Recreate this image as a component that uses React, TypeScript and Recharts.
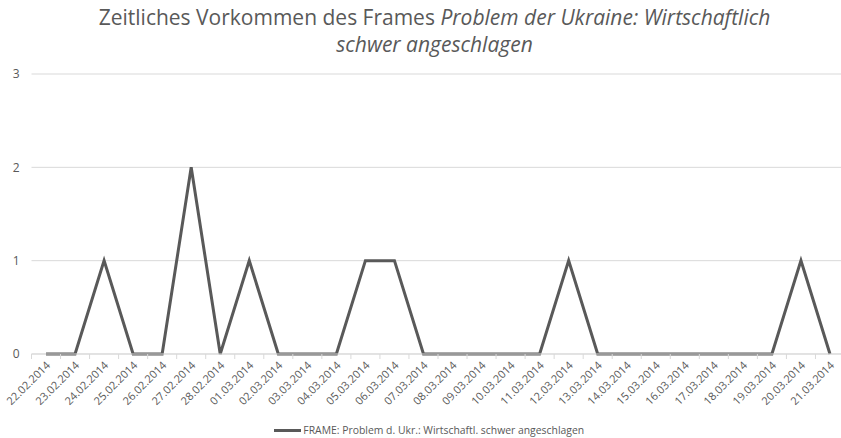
import React from 'react';
import { LineChart, Line, XAxis, YAxis, CartesianGrid, Legend } from 'recharts';

const DATES = [
  '22.02.2014', '23.02.2014', '24.02.2014', '25.02.2014', '26.02.2014', '27.02.2014', '28.02.2014',
  '01.03.2014', '02.03.2014', '03.03.2014', '04.03.2014', '05.03.2014', '06.03.2014', '07.03.2014',
  '08.03.2014', '09.03.2014', '10.03.2014', '11.03.2014', '12.03.2014', '13.03.2014', '14.03.2014',
  '15.03.2014', '16.03.2014', '17.03.2014', '18.03.2014', '19.03.2014', '20.03.2014', '21.03.2014',
];

const COUNTS = [0, 0, 1, 0, 0, 2, 0, 1, 0, 0, 0, 1, 1, 0, 0, 0, 0, 0, 1, 0, 0, 0, 0, 0, 0, 0, 1, 0];

const Y_TICKS = [0, 1, 2, 3];

const SERIES_NAME = 'FRAME: Problem d. Ukr.: Wirtschaftl. schwer angeschlagen';

const data = DATES.map((date, i) => ({ date, frame: COUNTS[i] }));

const WIDTH = 841;
const HEIGHT = 438;
const MARGIN = { top: 74, right: -3.5, bottom: 0, left: 0 };
const Y_WIDTH = 31.5;
const STEP = (WIDTH - MARGIN.left - MARGIN.right - Y_WIDTH) / DATES.length;

const GREY = '#595959';
const FONT = '"Open Sans", sans-serif';

function DateTick(props: any) {
  const { x, y, payload, index } = props;
  return (
    <g>
      <line x1={x - STEP / 2} x2={x - STEP / 2} y1={y} y2={y + 5} stroke="#d9d9d9" />
      {index === DATES.length - 1 && (
        <line x1={x + STEP / 2} x2={x + STEP / 2} y1={y} y2={y + 5} stroke="#d9d9d9" />
      )}
      <text
        x={x + 5}
        y={y + 12}
        transform={`rotate(-45 ${x + 5} ${y + 12})`}
        textAnchor="end"
        fontSize={11}
        fontFamily={FONT}
        fill={GREY}
      >
        {payload.value}
      </text>
    </g>
  );
}

function LegendContent() {
  return (
    <div
      style={{
        height: 24,
        display: 'flex',
        justifyContent: 'center',
        alignItems: 'center',
        paddingTop: 8,
        paddingLeft: 14,
        boxSizing: 'border-box',
        fontFamily: FONT,
        fontSize: 10.4,
        color: GREY,
      }}
    >
      <span style={{ display: 'inline-block', width: 27, height: 3, background: GREY, marginRight: 2 }} />
      <span>{SERIES_NAME}</span>
    </div>
  );
}

export default function App() {
  return (
    <div style={{ position: 'absolute', left: 0, top: 0, width: WIDTH, height: HEIGHT, background: '#fff' }}>
      <div
        style={{
          position: 'absolute',
          top: 4,
          left: 14,
          width: WIDTH,
          textAlign: 'center',
          fontFamily: FONT,
          fontSize: 21,
          lineHeight: '27px',
          color: GREY,
        }}
      >
        Zeitliches Vorkommen des Frames <i>Problem der Ukraine: Wirtschaftlich</i>
        <br />
        <i>schwer angeschlagen</i>
      </div>
      <LineChart width={WIDTH} height={HEIGHT} data={data} margin={MARGIN}>
        <CartesianGrid vertical={false} stroke="#d9d9d9" />
        <XAxis
          dataKey="date"
          interval={0}
          height={60}
          padding={{ left: STEP / 2, right: STEP / 2 }}
          axisLine={{ stroke: '#d9d9d9' }}
          tickLine={false}
          tickSize={0}
          tickMargin={0}
          tick={<DateTick />}
        />
        <YAxis
          domain={[0, 3]}
          ticks={Y_TICKS}
          width={Y_WIDTH}
          axisLine={false}
          tickLine={false}
          tickMargin={6}
          tick={{ fill: GREY, fontSize: 12, fontFamily: FONT }}
        />
        <Legend verticalAlign="bottom" content={<LegendContent />} />
        <Line
          type="linear"
          dataKey="frame"
          name={SERIES_NAME}
          stroke={GREY}
          strokeWidth={3}
          strokeLinejoin="miter"
          dot={false}
          isAnimationActive={false}
        />
      </LineChart>
    </div>
  );
}
